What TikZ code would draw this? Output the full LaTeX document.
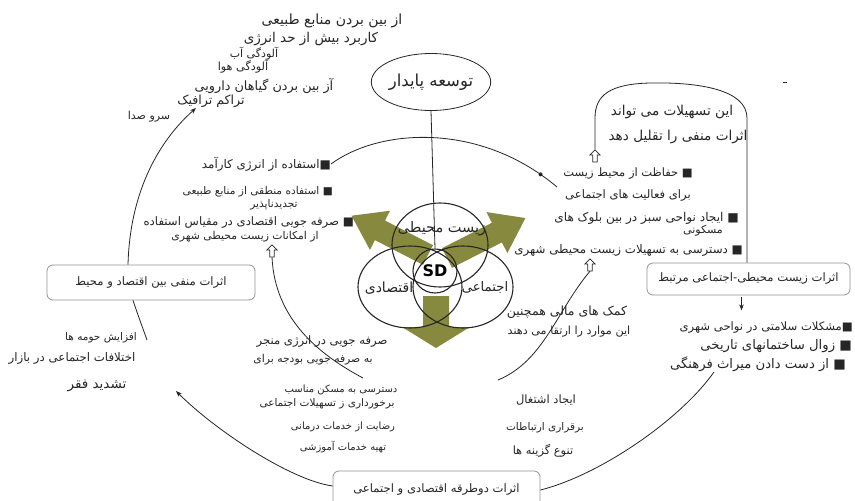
\documentclass[tikz,border=0pt]{standalone}
\usepackage{fontspec}
\setmainfont{DejaVu Sans}
\newfontfamily\fafont[Script=Arabic]{DejaVu Sans}
\TeXXeTstate=1
\usetikzlibrary{arrows.meta,calc,shapes.geometric,shapes.arrows}
\newcommand\rtl[1]{\beginR #1\endR}
\definecolor{olivearr}{RGB}{135,137,62}
\definecolor{boxline}{RGB}{150,150,150}
\newcommand\blockarrow[7]{%
  \begin{scope}[shift={(#1,#2)},rotate=#3]
    \fill[olivearr] (0,-#6) -- (#4-#5,-#6) -- (#4-#5,-#7) -- (#4,0) -- (#4-#5,#7) -- (#4-#5,#6) -- (0,#6) -- cycle;
  \end{scope}}
\begin{document}
\begin{tikzpicture}[x=1pt,y=-1pt,
  fa/.style={inner sep=0pt, text=black!85, font=\fafont\fontsize{#1}{#1}\selectfont},
  fa/.default=11.5,
  conn/.style={draw=black!85, line width=0.8pt},
  tipped/.style={conn, -{Stealth[length=6pt,width=4.5pt]}},
  venn/.style={draw=black!85, line width=1.1pt},
  effbox/.style={draw=boxline, line width=0.8pt, rounded corners=6pt, fill=white, inner sep=0pt, text=black!85, font=\fafont\fontsize{11.6}{12}\selectfont},
  hollow/.style={single arrow, draw=black!85, fill=white, line width=0.7pt, shape border rotate=90, minimum height=12pt, minimum width=10pt, single arrow head extend=2pt, inner sep=1.2pt}
]
\useasboundingbox (0,0) rectangle (855,501);
\fill[white] (0,0) rectangle (855,501);

% olive block arrows
\blockarrow{428}{255}{152.8}{86}{32}{11}{22}
\blockarrow{447}{258}{27}{88}{32}{11}{23}
\blockarrow{436}{296}{-90}{52}{21}{13}{34}

% Venn diagram
\draw[venn] (440,245) ellipse [x radius=48, y radius=42];
\draw[venn] (410,287) ellipse [x radius=52, y radius=41];
\draw[venn] (463,287) ellipse [x radius=50, y radius=41];
\node[circle, venn, minimum size=44pt, inner sep=0pt, font=\bfseries\fontsize{16}{16}\selectfont] (sd) at (435,271) {SD};
\node[fa=14.5] (venv) at (442,229) {\rtl{زیست محیطی}};
\node[fa=14] (vecon) at (389,288) {\rtl{اقتصادی}};
\node[fa=13.2] (vsoc) at (485,287) {\rtl{اجتماعی}};

% top ellipse
\node[ellipse, draw=black!85, line width=0.8pt, minimum width=94pt, minimum height=57pt, inner sep=0pt, text=black!85, font=\fafont\fontsize{16.5}{17}\selectfont] (ell) at (431,82) {\rtl{توسعه پایدار}};
\draw[conn] (ell.south) -- (sd.north);

% top-left list
\node[fa=14] (t1) at (332,21) {\rtl{از بین بردن منابع طبیعی}};
\node[fa=13.5] (t2) at (311,39) {\rtl{کاربرد بیش از حد انرژی}};
\node[fa=11] (t3) at (254,54) {\rtl{آلودگی آب}};
\node[fa=11.2] (t4) at (243,67) {\rtl{آلودگی هوا}};
\node[fa=12.8] (t5) at (264,86) {\rtl{آز بین بردن گیاهان دارویی}};
\node[fa=12.6] (t6) at (211,101) {\rtl{تراکم ترافیک}};
\node[fa=11] (t7) at (149,117) {\rtl{سرو صدا}};

% left-middle list
\node[fa=11.9, anchor=east] (m1) at (331,164) {\rtl{■استفاده از انرژی کارآمد}};
\node[fa=10.6, anchor=east] (m2) at (333,192) {\rtl{■ استفاده منطقی از منابع طبیعی}};
\node[fa=10.6] (m3) at (274,205) {\rtl{تجدیدناپذیر}};
\node[fa=11.7, anchor=east] (m4) at (354,222) {\rtl{■ صرفه جویی اقتصادی در مقیاس استفاده}};
\node[fa=10.8] (m5) at (245,237) {\rtl{از امکانات زیست محیطی شهری}};
\node[hollow] (h1) at (272,252) {};

% right-upper list
\node[fa=13.6] (r1) at (672,112) {\rtl{این تسهیلات می تواند}};
\node[fa=13.6] (r2) at (678,137) {\rtl{اثرات منفی را تقلیل دهد}};
\node[hollow] (h2) at (595,157) {};
\node[fa=11.5, anchor=east] (r3) at (693,174) {\rtl{■ حفاظت از محیط زیست}};
\node[fa=11.6] (r4) at (628,196) {\rtl{برای فعالیت های اجتماعی}};
\node[fa=12.1, anchor=east] (r5) at (739,218) {\rtl{■ ایجاد نواحی سبز در بین بلوک های}};
\node[fa=11] (r6) at (703,231) {\rtl{مسکونی}};
\node[fa=11.8, anchor=east] (r7) at (743,250) {\rtl{■ دسترسی به تسهیلات زیست محیطی شهری}};
\node[hollow] (h3) at (590,266) {};

% boxes
\node[effbox, minimum width=208pt, minimum height=35pt] (lbox) at (151,282.5) {\rtl{اثرات منفی بین اقتصاد و محیط}};
\node[effbox, minimum width=203pt, minimum height=32pt] (rbox) at (748.5,279) {\rtl{اثرات زیست محیطی-اجتماعی مرتبط}};
\node[effbox, minimum width=207pt, minimum height=38pt] (bbox) at (436.5,490) {\rtl{اثرات دوطرقه اقتصادی و اجتماعی}};

% right-bottom list
\node[fa=11.6, anchor=east] (rb1) at (853,328) {\rtl{■مشکلات سلامتی در نواحی شهری}};
\node[fa=13.2, anchor=east] (rb2) at (852,346) {\rtl{■ زوال ساختمانهای تاریخی}};
\node[fa=13.2, anchor=east] (rb3) at (846,364) {\rtl{■ از دست دادن میراث فرهنگی}};

% left-bottom list
\node[fa=10.5] (lb1) at (101,338) {\rtl{افزایش حومه ها}};
\node[fa=11.8] (lb2) at (72,358) {\rtl{اختلافات اجتماعی در بازار}};
\node[fa=13.5] (lb3) at (97,386) {\rtl{تشدید فقر}};

% center-bottom list
\node[fa=11.6] (c1) at (322,342) {\rtl{صرفه جویی در انرژی منجر}};
\node[fa=10.8] (c2) at (313,360) {\rtl{به صرفه جویی بودجه برای}};
\node[fa=10] (c3) at (341,390) {\rtl{دسترسی به مسکن مناسب}};
\node[fa=10.5] (c4) at (327,404) {\rtl{برخورداری ز تسهیلات اجتماعی}};
\node[fa=10] (c5) at (343,427) {\rtl{رضایت از خدمات درمانی}};
\node[fa=10] (c6) at (343,447) {\rtl{تهیه خدمات آموزشی}};

% right-center
\node[fa=12.5] (k1) at (567,312) {\rtl{کمک های مالی همچنین}};
\node[fa=11.2] (k2) at (569,332) {\rtl{این موارد را ارتقا می دهند}};

% bottom-right list
\node[fa=11.5] (e1) at (546,400) {\rtl{ایجاد اشتغال}};
\node[fa=10.5] (e2) at (545,428) {\rtl{برقراری ارتباطات}};
\node[fa=11.4] (e3) at (543,451) {\rtl{تنوع گزینه ها}};

% free ends
\coordinate (tipA) at (196,108);
\coordinate (endB) at (557,187);
\coordinate (endC) at (363,378);
\coordinate (endD) at (498,380);
\coordinate (tipE) at (176,391);
\coordinate (endF) at (714,372);
\coordinate (endG) at (147,340);
\coordinate (domeL) at (595,118);
\coordinate (domeR) at (747,118);

% connectors
\draw[tipped] ($(lbox.north)+(-23,0)$) .. controls (130,190) and (160,140) .. (tipA);
\draw[conn] (m1.east) .. controls (380,128) and (480,122) .. coordinate[pos=0.93] (bdot) (endB);
\fill[black!85] (bdot) circle (2);
\draw[conn] (h1.south) .. controls (275,320) and (320,355) .. (endC);
\draw[conn] (h3.south) .. controls (557,310) and (544,361) .. (endD);
\draw[tipped] ($(bbox.west)+(0,-4)$) .. controls (290,480) and (215,430) .. (tipE);
\draw[conn] (bbox.east) .. controls (600,475) and (680,420) .. (endF);
\draw[conn] ($(lbox.south)+(-18,0)$) .. controls (138,315) .. (endG);
\draw[conn] (h2.north) -- (domeL) .. controls (595,95) and (610,84) .. (650,83) .. controls (700,82) and (747,90) .. (domeR) -- (domeR |- rbox.north);
\draw[tipped] ($(rbox.south)+(-7,2)$) -- ($(rbox.south)+(-7,15)$);
\draw[conn] (783,82) -- (787,82);
\end{tikzpicture}
\end{document}
